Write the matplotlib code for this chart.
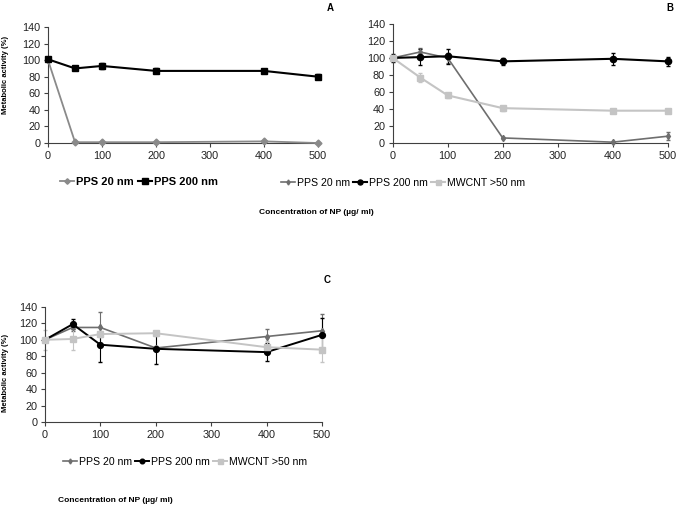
import matplotlib
matplotlib.use("Agg")
import matplotlib.pyplot as plt

plt.rcParams['font.family'] = ['Liberation Sans', 'DejaVu Sans']

conc = [0, 50, 100, 200, 400, 500]
yticks = [0, 20, 40, 60, 80, 100, 120, 140]
xticks = [0, 100, 200, 300, 400, 500]

# Panel A
a_pps20 = [100, 1, 1, 1, 2, 0]
a_pps20_err = [0, 1, 1, 1, 1, 0]
a_pps200 = [101, 90, 93, 87, 87, 80]
a_pps200_err = [2, 2, 4, 3, 2, 3]

# Panel B
b_pps20 = [100, 107, 100, 6, 1, 8]
b_pps20_err = [0, 5, 6, 1, 1, 5]
b_pps200 = [100, 101, 102, 96, 99, 96]
b_pps200_err = [5, 9, 9, 4, 7, 5]
b_mwcnt = [100, 77, 56, 41, 38, 38]
b_mwcnt_err = [0, 5, 3, 3, 1, 1]

# Panel C
c_pps20 = [100, 115, 115, 90, 104, 111]
c_pps20_err = [0, 4, 19, 2, 9, 21]
c_pps200 = [100, 119, 94, 89, 85, 106]
c_pps200_err = [0, 6, 21, 19, 11, 21]
c_mwcnt = [100, 101, 107, 108, 91, 88]
c_mwcnt_err = [12, 14, 3, 3, 8, 15]

fig = plt.figure(figsize=(6.89, 5.09), dpi=100)

DARK = '#6e6e6e'
LIGHT = '#c4c4c4'
MID = '#8a8a8a'


def style(ax):
    ax.set_xlim(0, 500)
    ax.set_ylim(0, 140)
    ax.set_xticks(xticks)
    ax.set_yticks(yticks)
    ax.spines['top'].set_visible(False)
    ax.spines['right'].set_visible(False)
    for s in ['left', 'bottom']:
        ax.spines[s].set_color('#404040')
        ax.spines[s].set_linewidth(0.8)
    ax.tick_params(labelsize=7.8, colors='#404040', labelcolor='#222222',
                   length=3, width=0.8, pad=2.5)


def series(ax, y, err, color, marker, ms, lw, label):
    ax.errorbar(conc, y, yerr=err, fmt='none', ecolor=color, elinewidth=0.8,
                capsize=1.5, clip_on=False)
    ax.plot(conc, y, color=color, marker=marker, ms=ms, lw=lw, label=label,
            clip_on=False, zorder=3)


def ylab(y):
    fig.text(6 / 689, 1 - y / 509, 'Metabolic activity (%)', rotation=90,
             fontsize=5.5, fontweight='bold', ha='center', va='center')


# --- Panel A
axA = fig.add_axes([0.0697, 0.719, 0.392, 0.228])
series(axA, a_pps20, a_pps20_err, MID, 'D', 3.5, 1.3, 'PPS 20 nm')
series(axA, a_pps200, a_pps200_err, 'black', 's', 4.8, 1.5, 'PPS 200 nm')
style(axA)
ylab(75)
fig.text(330 / 689, 1 - 8 / 509, 'A', fontsize=7, fontweight='bold', ha='center', va='center')
axA.legend(loc='center', bbox_to_anchor=(139 / 689, 1 - 182 / 509),
           bbox_transform=fig.transFigure, ncol=2, frameon=False,
           prop={'size': 8, 'weight': 'bold'}, handlelength=1.3,
           handletextpad=0.2, columnspacing=0.3, markerscale=0.8)

# --- Panel B
axB = fig.add_axes([0.570, 0.719, 0.399, 0.234])
series(axB, b_pps20, b_pps20_err, DARK, 'd', 3.2, 1.2, 'PPS 20 nm')
series(axB, b_pps200, b_pps200_err, 'black', 'o', 4.5, 1.5, 'PPS 200 nm')
series(axB, b_mwcnt, b_mwcnt_err, LIGHT, 's', 4.5, 1.5, 'MWCNT >50 nm')
style(axB)
fig.text(670 / 689, 1 - 8 / 509, 'B', fontsize=7, fontweight='bold', ha='center', va='center')
axB.legend(loc='center', bbox_to_anchor=(403 / 689, 1 - 183 / 509),
           bbox_transform=fig.transFigure, ncol=3, frameon=False,
           prop={'size': 7.6}, handlelength=1.3, handletextpad=0.2,
           columnspacing=0.3, markerscale=0.8)

fig.text(316 / 689, 1 - 213 / 509, 'Concentration of NP (µg/ ml)', fontsize=6,
         fontweight='bold', ha='center', va='center')

# --- Panel C
axC = fig.add_axes([0.0653, 0.171, 0.402, 0.226])
series(axC, c_pps20, c_pps20_err, DARK, 'd', 3.2, 1.2, 'PPS 20 nm')
series(axC, c_pps200, c_pps200_err, 'black', 'o', 4.2, 1.4, 'PPS 200 nm')
series(axC, c_mwcnt, c_mwcnt_err, LIGHT, 's', 4.5, 1.4, 'MWCNT >50 nm')
style(axC)
ylab(373)
fig.text(327 / 689, 1 - 280 / 509, 'C', fontsize=7, fontweight='bold', ha='center', va='center')
axC.legend(loc='center', bbox_to_anchor=(185 / 689, 1 - 462 / 509),
           bbox_transform=fig.transFigure, ncol=3, frameon=False,
           prop={'size': 7.6}, handlelength=1.3, handletextpad=0.2,
           columnspacing=0.3, markerscale=0.8)

fig.text(115 / 689, 1 - 500 / 509, 'Concentration of NP (µg/ ml)', fontsize=6,
         fontweight='bold', ha='center', va='center')

fig.savefig('out.png', dpi=100)
